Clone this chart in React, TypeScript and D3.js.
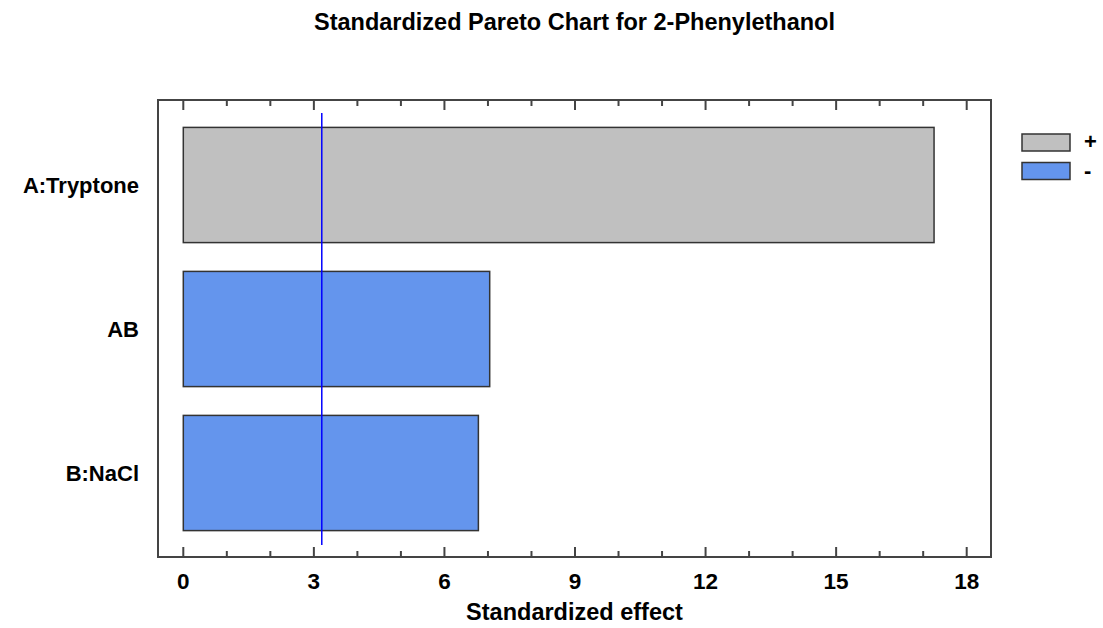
import React from "react";
import * as d3 from "d3";

const title = "Standardized Pareto Chart for 2-Phenylethanol";
const xLabel = "Standardized effect";
const effects = ["A:Tryptone", "AB", "B:NaCl"];
const values = [17.25, 7.04, 6.78];
const signs = ["+", "-", "-"];
const criticalValue = 3.182;
const majorTicks = [0, 3, 6, 9, 12, 15, 18];
const minorTicks = d3.range(0, 19, 1);
const legendSigns = ["+", "-"];

const W = 1103;
const H = 628;
const frame = { left: 158, right: 991, top: 100, bottom: 557 };
const font = "'Liberation Sans', Arial, sans-serif";
const colorFor: Record<string, string> = { "+": "#c0c0c0", "-": "#6495ed" };

export default function App() {
  const x = d3.scaleLinear().domain([0, 18]).range([183.3, 966.7]);
  const y = d3
    .scaleBand<string>()
    .domain(effects)
    .range([frame.top + 13, frame.bottom - 12])
    .paddingInner(0.2)
    .paddingOuter(0.1);

  const [y0, y1] = y.range();
  const cx = (frame.left + frame.right) / 2;

  return (
    <svg
      width={W}
      height={H}
      style={{ position: "fixed", left: 0, top: 0, background: "#fff" }}
      fontFamily={font}
    >
      <text x={cx} y={30} textAnchor="middle" fontSize={23.5} fontWeight="bold" fill="#000">
        {title}
      </text>

      {/* bars */}
      {effects.map((e, i) => (
        <rect
          key={e}
          x={x(0)}
          y={y(e)}
          width={x(values[i]) - x(0)}
          height={y.bandwidth()}
          fill={colorFor[signs[i]]}
          stroke="#333"
          strokeWidth={1.5}
        />
      ))}

      {/* critical value line */}
      <line
        x1={x(criticalValue)}
        x2={x(criticalValue)}
        y1={y0}
        y2={y1}
        stroke="#0000ff"
        strokeWidth={1.5}
      />

      {/* frame */}
      <rect
        x={frame.left}
        y={frame.top}
        width={frame.right - frame.left}
        height={frame.bottom - frame.top}
        fill="none"
        stroke="#444"
        strokeWidth={2}
      />

      {/* ticks on bottom and top edges */}
      {minorTicks.map((t) => {
        const major = t % 3 === 0;
        const len = major ? 10 : 6;
        return (
          <g key={t} stroke="#444" strokeWidth={2}>
            <line x1={x(t)} x2={x(t)} y1={frame.bottom} y2={frame.bottom - len} />
            <line x1={x(t)} x2={x(t)} y1={frame.top} y2={frame.top + len} />
          </g>
        );
      })}

      {majorTicks.map((t) => (
        <text
          key={t}
          x={x(t)}
          y={589}
          textAnchor="middle"
          fontSize={22.5}
          fontWeight="bold"
          fill="#000"
        >
          {t}
        </text>
      ))}

      <text x={cx} y={620} textAnchor="middle" fontSize={23.5} fontWeight="bold" fill="#000">
        {xLabel}
      </text>

      {/* category labels */}
      {effects.map((e) => (
        <text
          key={e}
          x={139}
          y={(y(e) ?? 0) + y.bandwidth() / 2 + 8}
          textAnchor="end"
          fontSize={22}
          fontWeight="bold"
          fill="#000"
        >
          {e}
        </text>
      ))}

      {/* legend */}
      {legendSigns.map((s, i) => (
        <g key={s} transform={`translate(1022, ${134 + i * 28.5})`}>
          <rect width={48} height={17} fill={colorFor[s]} stroke="#333" strokeWidth={1.5} />
          <text x={62} y={15} fontSize={22} fontWeight="bold" fill="#000">
            {s}
          </text>
        </g>
      ))}
    </svg>
  );
}
